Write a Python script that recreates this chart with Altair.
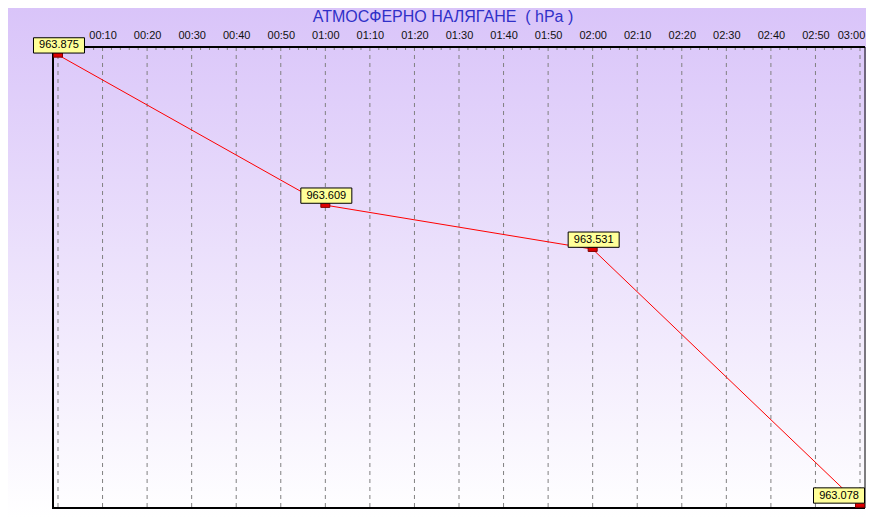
import altair as alt
import pandas as pd

times = ["00:00", "01:00", "02:00", "03:00"]
pressure = [963.875, 963.609, 963.531, 963.078]
title_text = "АТМОСФЕРНО НАЛЯГАНЕ  ( hPa )"
tick_minutes = list(range(0, 181, 2))
grid_minutes = list(range(0, 181, 10))

def to_min(t):
    h, m = t.split(":")
    return int(h) * 60 + int(m)

df = pd.DataFrame({
    "min": [to_min(t) for t in times],
    "p": pressure,
    "label": [f"{v:.3f}" for v in pressure],
})
grid_df = pd.DataFrame({"min": grid_minutes})
minor_df = pd.DataFrame({"min": [m for m in tick_minutes if m % 10 != 0]})
# keep the double space visible in SVG
title_df = pd.DataFrame({"t": [title_text.replace("  ", " \u00a0")]})

W, H = 812, 461
PL, PT, PR, PB = 45, 39, 1, 10
FONT = "Liberation Sans"

xscale = alt.Scale(domain=[-1.12, 181.12], nice=False, zero=False)
yscale = alt.Scale(domain=[963.0727, 963.889], nice=False, zero=False)

label_expr = ("datum.value % 10 === 0 && datum.value > 0 ? "
              "pad(floor(datum.value / 60), 2, '0', 'left') + ':' + "
              "pad(datum.value % 60, 2, '0', 'left') : ''")

xaxis = alt.Axis(orient="top", values=grid_minutes, labelExpr=label_expr,
                 domain=False, ticks=False, grid=False, labelPadding=7,
                 labelFontSize=11, labelFont=FONT, labelColor="#111111",
                 labelOverlap=False, labelFlush=False, title=None, zindex=1,
                 labelOffset={"condition": {"test": "datum.value >= 180", "value": -9},
                              "value": 0})

gradient = alt.LinearGradient(
    gradient="linear", x1=0, y1=0, x2=0, y2=1,
    stops=[alt.GradientStop(offset=0, color="#d9c4f9"),
           alt.GradientStop(offset=1, color="#ffffff")])

one = df.head(1)
bg = alt.Chart(one).mark_rect(color=gradient).encode(
    x=alt.value(-PL), x2=alt.value(W + PR), y=alt.value(-PT), y2=alt.value(H + PB))

title = alt.Chart(title_df).mark_text(
    font=FONT, fontSize=16, color="#3030c8", align="center", baseline="middle"
).encode(text="t:N", x=alt.value(390), y=alt.value(-30))

grid = alt.Chart(grid_df).mark_rule(color="#808080", strokeWidth=1, strokeDash=[4, 4]).encode(
    x=alt.X("min:Q", scale=xscale, axis=xaxis))
minor = alt.Chart(minor_df).mark_rule(color="#808080", strokeWidth=1).encode(
    x=alt.X("min:Q", scale=xscale, axis=xaxis), y=alt.value(1), y2=alt.value(3))

frame_top = alt.Chart(one).mark_rule(color="#000000", strokeWidth=2).encode(
    x=alt.value(-1), x2=alt.value(W), y=alt.value(0))
frame_left = alt.Chart(one).mark_rule(color="#000000", strokeWidth=2).encode(
    x=alt.value(0), y=alt.value(0), y2=alt.value(H + 1))
frame_right = alt.Chart(one).mark_rule(color="#000000", strokeWidth=1).encode(
    x=alt.value(W), y=alt.value(0), y2=alt.value(H))
frame_bottom = alt.Chart(one).mark_rule(color="#000000", strokeWidth=2).encode(
    x=alt.value(-1), x2=alt.value(W), y=alt.value(H))

base = alt.Chart(df).encode(
    x=alt.X("min:Q", scale=xscale, axis=xaxis),
    y=alt.Y("p:Q", scale=yscale, axis=None),
)

line = base.mark_line(color="#ff0000", strokeWidth=1)
markers = base.mark_point(shape="M-1,-0.5H1V0.5H-1Z", size=81, filled=True,
                          fill="#e00000", stroke="#800000", strokeWidth=1, opacity=1)

def callout(filter_expr, shift):
    b = base.transform_filter(filter_expr).mark_point(
        shape="M-1,-0.3H1V0.3H-1Z", size=2601, filled=True,
        fill="#ffff99", stroke="#000000", strokeWidth=1, opacity=1,
        xOffset=1 + shift, yOffset=-9.5)
    t = base.transform_filter(filter_expr).mark_text(
        font=FONT, fontSize=11, color="#000000", align="center",
        baseline="middle", dx=1 + shift, dy=-9.5).encode(text="label:N")
    return b, t

box_in, txt_in = callout("datum.min < 180", 0)
box_end, txt_end = callout("datum.min >= 180", -22)

chart = alt.layer(
    bg, title, grid, minor, frame_top, frame_left, frame_right, frame_bottom,
    line, markers, box_in, txt_in, box_end, txt_end
).properties(
    width=W, height=H,
    padding={"left": PL, "top": PT, "right": PR, "bottom": PB},
    autosize=alt.AutoSizeParams(type="none"),
).configure_view(stroke=None).configure(background="#ffffff")

chart.save("out.html", embed_options={"renderer": "svg", "actions": False})
